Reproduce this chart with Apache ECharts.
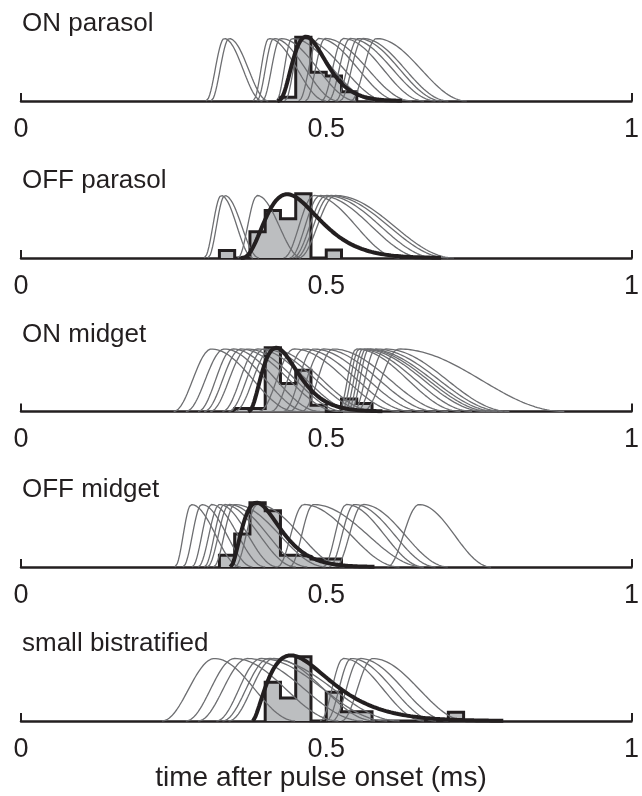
<!DOCTYPE html>
<html><head><meta charset="utf-8">
<script src="https://cdn.jsdelivr.net/npm/echarts@6/dist/echarts.min.js"></script>
<style>html,body{margin:0;padding:0;background:#fff}#c{width:642px;height:796px}</style>
</head><body><div id="c"></div><script>
// ---------- data ----------
const panelNames = ['ON parasol', 'OFF parasol', 'ON midget', 'OFF midget', 'small bistratified'];
const xTickValues = [0, 0.5, 1];
const xAxisTitle = 'time after pulse onset (ms)';
const binWidth = 0.025;

// individual cell curves: [onset, peak time, end]
const onParasolCurves = [[0.303,0.333,0.395],[0.311,0.341,0.405],[0.380,0.406,0.50],[0.386,0.414,0.52],[0.395,0.425,0.55],[0.418,0.444,0.58],[0.432,0.460,0.60],[0.455,0.487,0.62],[0.466,0.498,0.64],[0.492,0.528,0.66],[0.503,0.539,0.68],[0.515,0.552,0.69],[0.522,0.560,0.70],[0.540,0.582,0.73]];
const offParasolCurves = [[0.300,0.328,0.38],[0.306,0.334,0.39],[0.355,0.387,0.46],[0.430,0.480,0.62],[0.440,0.490,0.66],[0.445,0.500,0.68],[0.450,0.507,0.70],[0.455,0.515,0.71]];
const onMidgetCurves = [[0.25,0.312,0.45],[0.27,0.333,0.47],[0.29,0.347,0.49],[0.30,0.360,0.52],[0.31,0.371,0.53],[0.33,0.387,0.55],[0.34,0.398,0.57],[0.35,0.409,0.58],[0.39,0.447,0.62],[0.41,0.463,0.64],[0.43,0.479,0.66],[0.44,0.495,0.68],[0.46,0.511,0.70],[0.52,0.549,0.72],[0.525,0.554,0.74],[0.53,0.560,0.76],[0.535,0.565,0.77],[0.54,0.570,0.78],[0.545,0.581,0.79],[0.55,0.597,0.80],[0.56,0.619,0.89]];
const offMidgetCurves = [[0.252,0.279,0.36],[0.265,0.296,0.38],[0.28,0.312,0.40],[0.29,0.325,0.42],[0.30,0.333,0.45],[0.305,0.341,0.47],[0.315,0.350,0.50],[0.35,0.387,0.53],[0.42,0.463,0.62],[0.44,0.479,0.66],[0.495,0.533,0.66],[0.505,0.546,0.68],[0.515,0.560,0.70],[0.60,0.652,0.77]];
const smallBistratifiedCurves = [[0.231,0.317,0.45],[0.27,0.350,0.52],[0.29,0.371,0.56],[0.32,0.393,0.60],[0.33,0.406,0.62],[0.34,0.414,0.58],[0.49,0.528,0.66],[0.50,0.541,0.68],[0.51,0.555,0.70],[0.525,0.576,0.73]];

// histograms: first bin start and bin heights (relative)
const onParasolHistStart = 0.425;
const onParasolHist = [0.06, 1.02, 0.46, 0.40, 0.15];
const offParasolHistStart = 0.325;
const offParasolHist = [0.12, 0, 0.42, 0.76, 0.63, 1.03, 0, 0.13];
const onMidgetHistStart = 0.35;
const onMidgetHist = [0.05, 0.05, 1.02, 0.45, 0.66, 0.10, 0, 0.20, 0.13];
const offMidgetHistStart = 0.325;
const offMidgetHist = [0.19, 0.53, 1.03, 0.90, 0.19, 0.17, 0.13, 0.13];
const smallBistratifiedHistStart = 0.40;
const smallBistratifiedHist = [0.62, 0.37, 1.03, 0, 0.46, 0.15, 0.15, 0, 0, 0, 0, 0, 0.14];

// population fits: [onset, peak time, shape, height]
const onParasolFit = [0.420, 0.467, 3, 1.03];
const offParasolFit = [0.360, 0.436, 3, 1.02];
const onMidgetFit = [0.372, 0.418, 2.5, 1.02];
const offMidgetFit = [0.343, 0.386, 2, 1.03];
const smallBistratifiedFit = [0.380, 0.442, 1.5, 1.05];

// ---------- layout ----------
const baselines = [101, 258, 411.5, 567, 721];
const plotH = 75, yMax = 1.2;
const FONT = '"Liberation Sans", Arial, Helvetica, sans-serif';
const INK = '#231f20';

const panels = [
  [onParasolCurves, onParasolHistStart, onParasolHist, onParasolFit],
  [offParasolCurves, offParasolHistStart, offParasolHist, offParasolFit],
  [onMidgetCurves, onMidgetHistStart, onMidgetHist, onMidgetFit],
  [offMidgetCurves, offMidgetHistStart, offMidgetHist, offMidgetFit],
  [smallBistratifiedCurves, smallBistratifiedHistStart, smallBistratifiedHist, smallBistratifiedFit]
];

// smooth bump through onset, peak and end
function cellCurve(c) {
  const t0 = c[0], tp = c[1], t1 = c[2];
  const pts = [];
  for (let t = t0; t <= t1 + 1e-9; t += 0.002) {
    const v = t < tp ? (1 - Math.cos(Math.PI * (t - t0) / (tp - t0))) / 2
                     : (1 + Math.cos(Math.PI * (t - tp) / (t1 - tp))) / 2;
    pts.push([t, v]);
  }
  pts.push([t1, 0]);
  return pts;
}
function fitCurve(f) {
  const t0 = f[0], tp = f[1], k = f[2], h = f[3];
  const pts = [];
  for (let t = t0; t <= 1; t += 0.002) {
    const x = (t - t0) / (tp - t0);
    const v = h * Math.pow(x, k) * Math.exp(k * (1 - x));
    pts.push([t, v]);
    if (x > 1 && v < 0.004) break;
  }
  return pts;
}
function histOutline(start, heights) {
  const pts = [[start, 0]];
  heights.forEach((h, i) => {
    pts.push([start + i * binWidth, h]);
    pts.push([start + (i + 1) * binWidth, h]);
  });
  pts.push([start + heights.length * binWidth, 0]);
  return pts;
}

const grids = [], xAxes = [], yAxes = [], series = [], graphics = [];
panels.forEach((p, i) => {
  grids.push({ left: 21, width: 617, top: baselines[i] - plotH, height: plotH });
  xAxes.push({
    gridIndex: i, type: 'value', min: 0, max: 1, interval: 0.5,
    axisLine: { show: true, lineStyle: { color: INK, width: 2.5 } },
    axisTick: { show: true, inside: true, length: 8, lineStyle: { color: INK, width: 2 } },
    axisLabel: { show: true, margin: 15, fontSize: 27, color: INK, fontFamily: FONT, showMaxLabel: true, showMinLabel: true,
      customValues: xTickValues },
    splitLine: { show: false }
  });
  yAxes.push({ gridIndex: i, type: 'value', min: 0, max: yMax, show: false });
  series.push({
    type: 'line', xAxisIndex: i, yAxisIndex: i, data: histOutline(p[1], p[2]),
    showSymbol: false, symbol: 'none', z: 2,
    lineStyle: { color: INK, width: 3, join: 'miter' },
    areaStyle: { color: '#bcbec0', opacity: 1 }
  });
  p[0].forEach(c => series.push({
    type: 'line', xAxisIndex: i, yAxisIndex: i, data: cellCurve(c),
    showSymbol: false, symbol: 'none', z: 3, silent: true,
    lineStyle: { color: '#6d6e71', width: 1.3 }
  }));
  series.push({
    type: 'line', xAxisIndex: i, yAxisIndex: i, data: fitCurve(p[3]),
    showSymbol: false, symbol: 'none', z: 4,
    lineStyle: { color: INK, width: 4 }
  });
  graphics.push({ type: 'text', left: 22, top: baselines[i] - 90,
    style: { text: panelNames[i], fontSize: 26, fill: INK, fontFamily: FONT } });
});
graphics.push({ type: 'text', left: 'center', top: 764,
  style: { text: xAxisTitle, fontSize: 28, fill: INK, fontFamily: FONT } });

const chart = echarts.init(document.getElementById('c'), null, { renderer: 'canvas' });
chart.setOption({
  animation: false, backgroundColor: '#fff',
  graphic: graphics, grid: grids, xAxis: xAxes, yAxis: yAxes, series: series
});
</script></body></html>
